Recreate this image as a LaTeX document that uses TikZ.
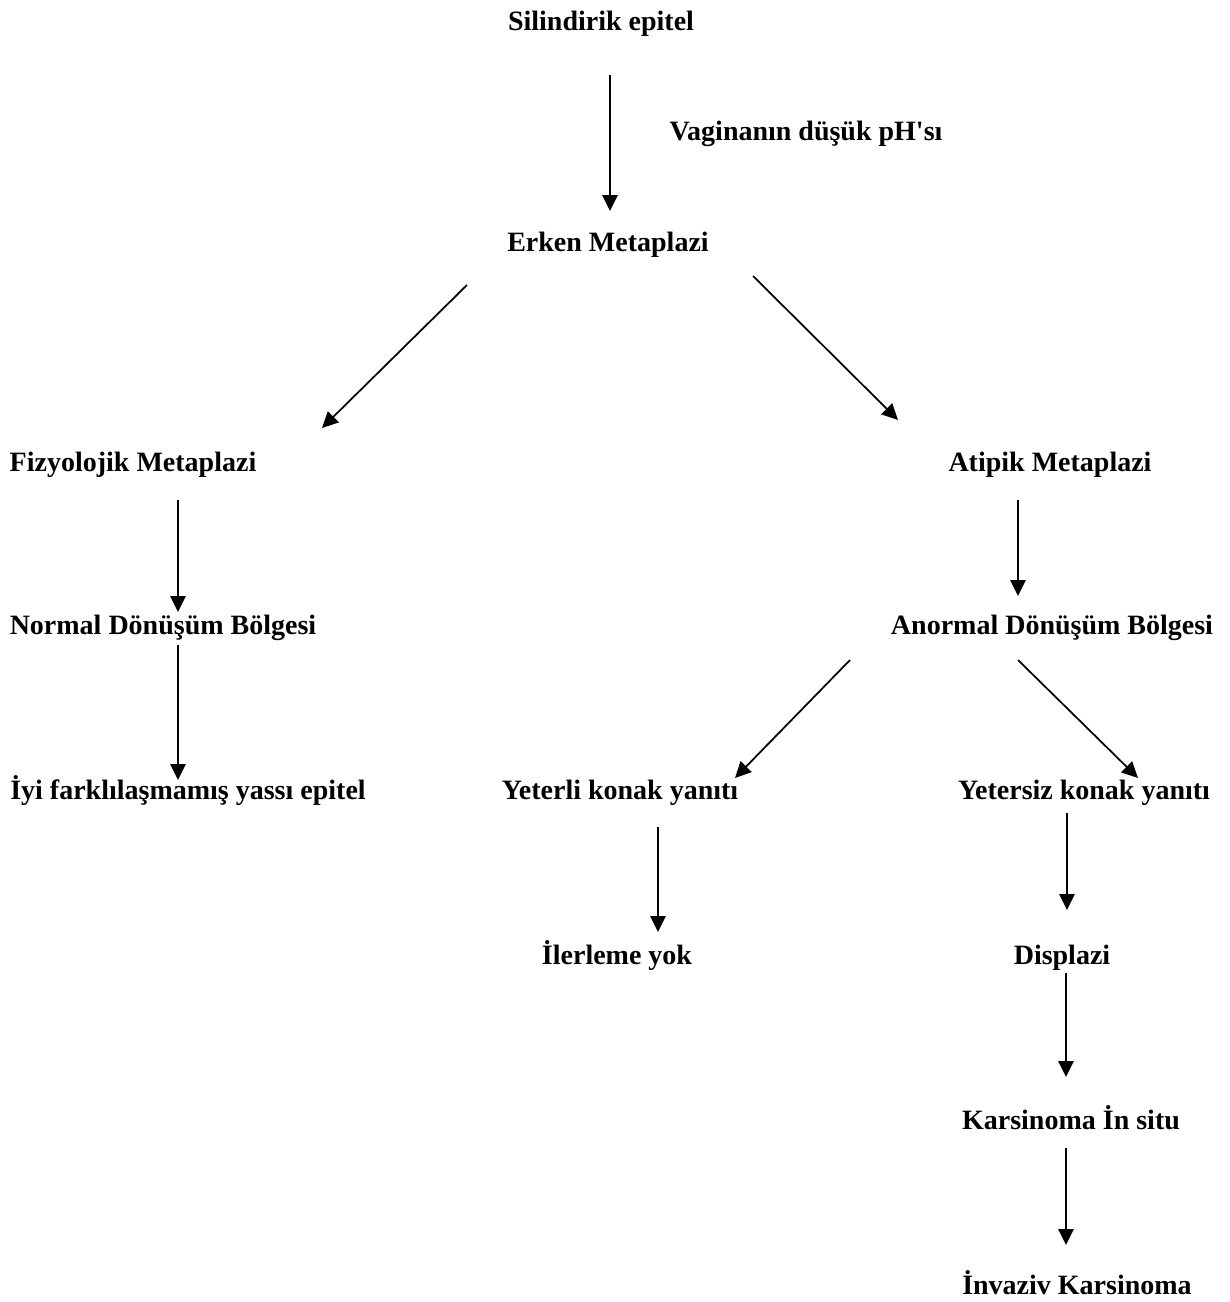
\documentclass[tikz,border=0pt]{standalone}
\usepackage{fontspec}
\setmainfont{Liberation Serif}
\usetikzlibrary{arrows.meta,calc}

\begin{document}
\begin{tikzpicture}[
		x=0.75pt, y=-0.75pt,
		font=\fontsize{21}{25}\selectfont\bfseries,
		adim/.style={anchor=base, inner sep=0pt},
		>={Triangle[length=12pt, width=11.5pt]},
		fl/.style={->, line width=1.3pt}
	]
	\useasboundingbox (0,0) rectangle (1229,1302);

	% basamaklar
	\node[adim] (sil) at (601,31) {Silindirik epitel};
	\node[adim] (vag) at (806,141) {Vaginanın düşük pH\textquotesingle sı};
	\node[adim] (erken) at (608,251) {Erken Metaplazi};
	\node[adim] (fiz) at (133,471) {Fizyolojik Metaplazi};
	\node[adim] (atip) at (1050,471) {Atipik Metaplazi};
	\node[adim] (normal) at (163,634) {Normal Dönüşüm Bölgesi};
	\node[adim] (anormal) at (1052,634) {Anormal Dönüşüm Bölgesi};
	\node[adim] (iyi) at (188,799) {İyi farklılaşmamış yassı epitel};
	\node[adim] (yeterli) at (620,799) {Yeterli konak yanıtı};
	\node[adim] (yetersiz) at (1084,799) {Yetersiz konak yanıtı};
	\node[adim] (ilerleme) at (617,964) {İlerleme yok};
	\node[adim] (displazi) at (1062,964) {Displazi};
	\node[adim] (karsin) at (1071,1129) {Karsinoma İn situ};
	\node[adim] (invaziv) at (1077,1294) {İnvaziv Karsinoma};

	% oklar
	\draw[fl] ($(sil.base)+(9,44)$) -- ($(erken.base)+(2,-40)$);
	\draw[fl] ($(erken.base)+(-141,34)$) -- ($(fiz.base)+(189,-43)$);
	\draw[fl] ($(erken.base)+(145,25)$) -- ($(atip.base)+(-152,-51)$);
	\draw[fl] ($(fiz.base)+(45,29)$) -- ($(normal.base)+(15,-22)$);
	\draw[fl] ($(normal.base)+(15,11)$) -- ($(iyi.base)+(-10,-19)$);
	\draw[fl] ($(atip.base)+(-32,29)$) -- ($(anormal.base)+(-34,-38)$);
	\draw[fl] ($(anormal.base)+(-202,26)$) -- ($(yeterli.base)+(115,-21)$);
	\draw[fl] ($(anormal.base)+(-34,26)$) -- ($(yetersiz.base)+(54,-21)$);
	\draw[fl] ($(yeterli.base)+(38,28)$) -- ($(ilerleme.base)+(41,-32)$);
	\draw[fl] ($(yetersiz.base)+(-17,14)$) -- ($(displazi.base)+(5,-54)$);
	\draw[fl] ($(displazi.base)+(4,9)$) -- ($(karsin.base)+(-5,-52)$);
	\draw[fl] ($(karsin.base)+(-5,19)$) -- ($(invaziv.base)+(-11,-49)$);
\end{tikzpicture}
\end{document}
